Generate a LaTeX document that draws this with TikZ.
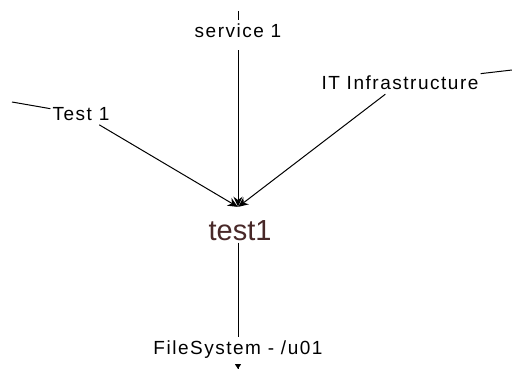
\documentclass[tikz,border=0pt]{standalone}
\usepackage{fontspec}
\newfontfamily\lblfont[LetterSpace=8]{Liberation Sans}
\newfontfamily\nodefont{Liberation Sans}
\usetikzlibrary{arrows.meta}
\definecolor{nodebrown}{RGB}{72,40,40}
\tikzset{>={Stealth[length=10pt,width=9pt]}}
\tikzset{
  lbl/.style={font=\lblfont\fontsize{19}{22}\selectfont, inner xsep=2pt, inner ysep=4pt},
  edge/.style={line width=1pt, black},
  dot/.style={circle, inner sep=0pt, minimum size=0.1pt}
}

\begin{document}
\begin{tikzpicture}[x=1pt,y=-1pt]
    \useasboundingbox (0,0) rectangle (512,369);
    % target node and its label
    \node[dot] (test1) at (238,207) {};
    \node[font=\nodefont\fontsize{29}{32}\selectfont, text=nodebrown, anchor=north, inner sep=2pt]
        (test1lbl) at (240,218) {test1};
    % parents
    \node[lbl] (svc) at (238,31) {service 1};
    \node[lbl] (tst) at (81,114) {Test 1};
    \node[lbl] (itinf) at (400,83) {IT Infrastructure};
    \node[lbl] (fs) at (238,350) {FileSystem - /u01};
    % free ends at the border
    \coordinate (svc0) at (238,11);
    \coordinate (tst0) at (12,102);
    \coordinate (itinf0) at (512,70);
    \coordinate (fs0) at (238,369);
    \draw[edge] (svc0) -- (svc);
    \draw[edge,->, shorten <=8pt] (svc) -- (test1);
    \draw[edge,->] (tst0) -- (tst) -- (test1);
    \draw[edge,->] (itinf0) -- (itinf) -- (test1);
    \draw[edge,-{Triangle[length=5pt,width=6pt]}, shorten <=22pt] (test1lbl.south -| fs.north) -- (fs) -- (fs0);
\end{tikzpicture}
\end{document}
